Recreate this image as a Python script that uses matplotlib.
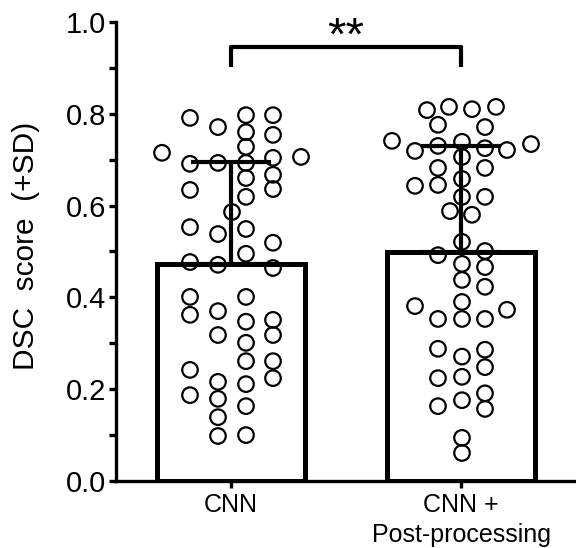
import numpy as np
import matplotlib
matplotlib.use("Agg")
import matplotlib.pyplot as plt
from matplotlib.ticker import MultipleLocator

plt.rcParams['font.family'] = ['Liberation Sans', 'DejaVu Sans']

# group labels, bar means and SD
categories = ["CNN", "CNN +\nPost-processing"]
means = [0.473, 0.499]
sds = [0.222, 0.231]

# individual DSC scores
cnn_vals = [0.715, 0.791, 0.771, 0.797, 0.760, 0.728, 0.797, 0.754, 0.706, 0.691,
            0.693, 0.693, 0.704, 0.660, 0.667, 0.636, 0.634, 0.619, 0.586, 0.553,
            0.538, 0.549, 0.519, 0.495, 0.477, 0.471, 0.464, 0.401, 0.362, 0.370,
            0.401, 0.347, 0.351, 0.318, 0.318, 0.301, 0.261, 0.261, 0.224, 0.242,
            0.216, 0.211, 0.187, 0.179, 0.163, 0.139, 0.098, 0.100]
# horizontal scatter of each dot (pixels in the original)
cnn_jit = [-69, -41, -13, 15, 15, 15, 42, 42, 70, -41,
           -13, 15, 42, 15, 42, 42, -41, 15, 1, -41,
           -13, 15, 42, 15, -41, -13, 42, -41, -41, -13,
           15, 15, 42, 42, -13, 15, 15, 42, 42, -41,
           -13, 15, -41, -13, 15, -13, -13, 15]

post_vals = [0.808, 0.815, 0.810, 0.815, 0.776, 0.771, 0.741, 0.734, 0.719, 0.730,
             0.739, 0.725, 0.721, 0.706, 0.682, 0.682, 0.643, 0.645, 0.658, 0.619,
             0.619, 0.588, 0.580, 0.521, 0.492, 0.501, 0.473, 0.466, 0.438, 0.423,
             0.390, 0.381, 0.373, 0.353, 0.353, 0.353, 0.288, 0.271, 0.286, 0.248,
             0.224, 0.227, 0.191, 0.157, 0.176, 0.163, 0.094, 0.061]
post_jit = [-34, -12, 11, 35, -23, 24, -69, 70, -46, -23,
            1, 24, 46, 1, -23, 24, -46, -23, 1, 1,
            24, -11, 11, 1, -23, 24, 1, 24, 1, 24,
            1, -46, 46, -23, 1, 24, -23, 1, 24, 24,
            -23, 1, 24, 24, 1, -23, 1, 1]

fig = plt.figure(figsize=(5.76, 5.48), dpi=100)
ax = fig.add_axes([0.2014, 0.1223, 0.7986, 0.8376])

x = np.arange(len(categories))
ax.bar(x, means, width=0.64, facecolor='white', edgecolor='black', linewidth=3.6, zorder=2)
ax.errorbar(x, means, yerr=[[0, 0], sds], fmt='none', ecolor='black',
            elinewidth=3, capsize=29, capthick=3, zorder=3)

px = 230.0  # pixels per category unit in the original
for i, (vals, jit) in enumerate([(cnn_vals, cnn_jit), (post_vals, post_jit)]):
    xs = i + np.array(jit) / px
    ax.scatter(xs, vals, s=125, facecolors='none', edgecolors='black',
               linewidths=1.6, zorder=4, clip_on=False)

# significance bracket
ax.plot([0, 0, 1, 1], [0.902, 0.946, 0.946, 0.902], color='black', lw=3,
        clip_on=False, solid_capstyle='butt', zorder=5)
ax.text(0.5, 0.939, "**", ha='center', va='baseline', fontsize=34,
        clip_on=False)

ax.set_xlim(-0.5, 1.5)
ax.set_ylim(0, 1.0)
ax.set_xticks(x)
ax.set_xticklabels(categories, fontsize=18, linespacing=1.3)
ax.yaxis.set_major_locator(MultipleLocator(0.2))
ax.yaxis.set_minor_locator(MultipleLocator(0.1))
ax.set_yticks([0.0, 0.2, 0.4, 0.6, 0.8, 1.0])
ax.set_yticklabels(["0.0", "0.2", "0.4", "0.6", "0.8", "1.0"], fontsize=21)
fig.text(26 / 576, 1 - 246 / 548, "DSC  score  (+SD)", rotation=90,
         ha='center', va='center', fontsize=21.5)

for s in ['top', 'right']:
    ax.spines[s].set_visible(False)
for s in ['left', 'bottom']:
    ax.spines[s].set_linewidth(2.4)
ax.tick_params(axis='both', which='major', width=2.4, length=5, pad=2)
ax.tick_params(axis='y', which='minor', width=2.4, length=5)
ax.tick_params(axis='x', which='major', pad=4)

fig.savefig("out.png", dpi=100)
